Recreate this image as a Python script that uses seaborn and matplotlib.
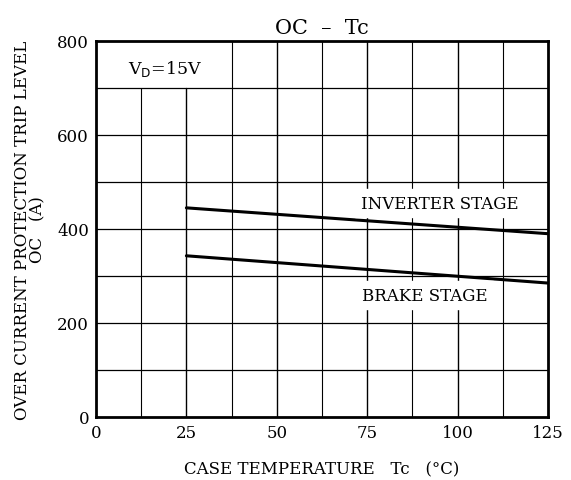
import matplotlib
matplotlib.use("Agg")
import matplotlib.pyplot as plt
import seaborn as sns
import pandas as pd

# valores
temp_c = [25, 125]
inverter_oc = [445, 390]
brake_oc = [343, 285]

x_ticks = [0, 25, 50, 75, 100, 125]
y_ticks = [0, 200, 400, 600, 800]

df = pd.DataFrame({
    "Tc": temp_c + temp_c,
    "OC": inverter_oc + brake_oc,
    "stage": ["INVERTER STAGE"] * 2 + ["BRAKE STAGE"] * 2,
})

sns.set_style("white")
plt.rcParams["font.family"] = ["DejaVu Serif"]
plt.rcParams["text.color"] = "black"
plt.rcParams["axes.labelcolor"] = "black"

fig = plt.figure(figsize=(5.71, 4.81), dpi=100)
ax = fig.add_axes([96 / 571, 1 - 418 / 481, 452 / 571, 376 / 481])

# grade: verticais a cada 12.5, horizontais a cada 100
for i in range(1, 10):
    xv = i * 12.5
    top = 700 if xv < 37.5 else 800
    lw = 1.0 if i % 2 == 0 else 0.8
    ax.plot([xv, xv], [0, top], color="black", lw=lw, zorder=1)
for yv in range(100, 800, 100):
    ax.axhline(yv, color="black", lw=0.9, zorder=1)

sns.lineplot(data=df, x="Tc", y="OC", units="stage", estimator=None,
             color="black", lw=2.2, ax=ax, zorder=3)

ax.set_xlim(0, 125)
ax.set_ylim(0, 800)
ax.set_xticks(x_ticks)
ax.set_yticks(y_ticks)
ax.set_yticks(range(0, 801, 100), minor=True)
ax.tick_params(axis="both", which="both", direction="out", length=3, width=1,
               labelsize=12, colors="black", pad=2)
for s in ax.spines.values():
    s.set_linewidth(2)
    s.set_color("black")

ax.text(95, 455, "INVERTER STAGE", ha="center", va="center", fontsize=12,
        backgroundcolor="white", zorder=4)
ax.text(91, 259, "BRAKE STAGE", ha="center", va="center", fontsize=12,
        backgroundcolor="white", zorder=4)
ax.text(19, 742, r"V$_\mathrm{D}$=15V", ha="center", va="center", fontsize=12.5)

ax.set_title("OC  –  Tc", fontsize=15, pad=6)
ax.set_xlabel("CASE TEMPERATURE   Tc   (°C)", fontsize=12, labelpad=14)
ax.set_ylabel("OVER CURRENT PROTECTION TRIP LEVEL\nOC   (A)", fontsize=12,
              labelpad=8, linespacing=0.85)

fig.savefig("out.png", dpi=100)
